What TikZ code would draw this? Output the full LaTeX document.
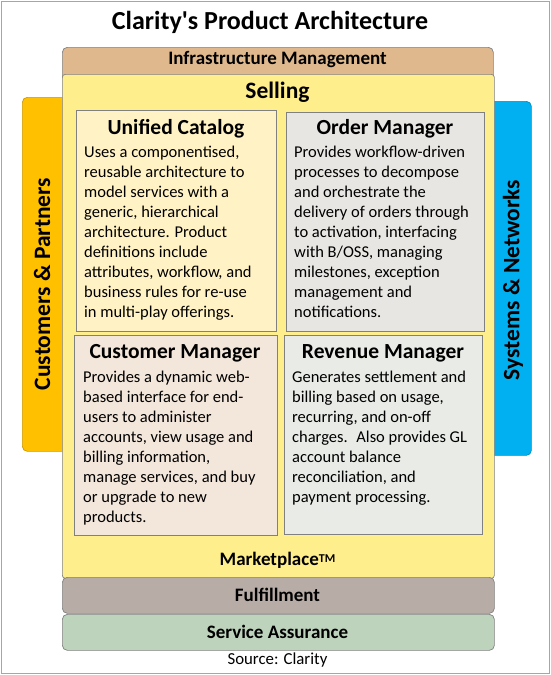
\documentclass[tikz,border=0pt]{standalone}
\usepackage{fontspec}
\setmainfont{Carlito}

\definecolor{framegray}{HTML}{A6A6A6}
\definecolor{infrafill}{HTML}{DFB98D}
\definecolor{sellfill}{HTML}{FFEE8C}
\definecolor{catfill}{HTML}{FFF3C6}
\definecolor{orderfill}{HTML}{E8E6E3}
\definecolor{custfill}{HTML}{F3E6DA}
\definecolor{revfill}{HTML}{E8EBE6}
\definecolor{partnerfill}{HTML}{FFC000}
\definecolor{netfill}{HTML}{00B0F0}
\definecolor{fulfill}{HTML}{B8ACA6}
\definecolor{assurefill}{HTML}{BDD3BB}

\begin{document}
\begin{tikzpicture}[x=1pt, y=-1pt,
    bar/.style={draw=black!50, line width=.7pt, rounded corners=5pt, inner sep=0pt, anchor=north west},
    panel/.style={draw=black!50, line width=.7pt, inner sep=0pt, anchor=north west},
    bartext/.style={font=\bfseries\fontsize{19}{22}\selectfont},
    sidetext/.style={font=\bfseries\fontsize{23.5}{27}\selectfont, rotate=90},
    paneltitle/.style={font=\bfseries\fontsize{21.5}{25}\selectfont},
    panelbody/.style={font=\fontsize{16.5}{20}\selectfont, align=left, inner sep=0pt, anchor=north west}]

        \useasboundingbox (0,0) rectangle (551,675);
        \draw[framegray, line width=.8pt] (1.5,1.5) rectangle (549.5,673.5);

        \node[font=\bfseries\fontsize{26}{30}\selectfont] (title) at (270,22) {Clarity\textquotesingle s Product Architecture};

        % layers behind the selling box
        \node[bar, fill=infrafill, minimum width=431pt, minimum height=34pt] (infra) at (62,47) {};
        \node[bar, fill=partnerfill, draw=partnerfill!80!black, minimum width=46pt, minimum height=354pt] (partners) at (22,97) {};
        \node[bar, fill=netfill, draw=netfill!80!black, minimum width=42pt, minimum height=354pt] (networks) at (489,101) {};

        \node[bar, fill=sellfill, rounded corners=3pt, minimum width=432pt, minimum height=504pt] (selling) at (62,74) {};

        \node[bar, fill=fulfill, minimum width=432pt, minimum height=36pt] (fulfil) at (62,577) {};
        \node[bar, fill=assurefill, minimum width=432pt, minimum height=36pt] (assure) at (62,614) {};

        \node[bartext] (infralabel) at (277.5,60) {Infrastructure Management};
        \node[font=\bfseries\fontsize{23.5}{27}\selectfont] (selllabel) at (277.5,92) {Selling};
        \node[bartext] (marketlabel) at (277.5,560) {Marketplace\raisebox{3pt}{\fontsize{12}{12}\selectfont TM}};
        \node[bartext] (fulfillabel) at (277.5,595) {Fulfillment};
        \node[bartext] (assurelabel) at (277.5,632) {Service Assurance};
        \node[font=\fontsize{16.8}{20}\selectfont] (source) at (277.5,660) {Source: Clarity};

        \node[sidetext] (partnerlabel) at (42,284) {Customers \& Partners};
        \node[sidetext] (netlabel) at (513,280) {Systems \& Networks};

        % the four product panels
        \node[panel, fill=catfill, minimum width=200pt, minimum height=221pt] (catalog) at (76,110) {};
        \node[panel, fill=orderfill, minimum width=198pt, minimum height=219pt] (order) at (286,112) {};
        \node[panel, fill=custfill, minimum width=203pt, minimum height=200pt] (customer) at (74,335) {};
        \node[panel, fill=revfill, minimum width=198pt, minimum height=199pt] (revenue) at (284,335) {};

        \node[paneltitle] (catalogtitle) at (176,129) {Unified Catalog};
        \node[paneltitle] (ordertitle) at (385,129) {Order Manager};
        \node[paneltitle] (customertitle) at (175,353) {Customer Manager};
        \node[paneltitle] (revenuetitle) at (383,353) {Revenue Manager};

        \node[panelbody] (catalogbody) at (84,146) {Uses a componentised,\\ reusable architecture to\\ model services with a\\ generic, hierarchical\\ architecture. Product\\ definitions include\\ attributes, workflow, and\\ business rules for re-use\\ in multi-play offerings.};
        \node[panelbody] (orderbody) at (294,146) {Provides workflow-driven\\ processes to decompose\\ and orchestrate the\\ delivery of orders through\\ to activation, interfacing\\ with B/OSS, managing\\ milestones, exception\\ management and\\ notifications.};
        \node[panelbody] (customerbody) at (83,371) {Provides a dynamic web-\\ based interface for end-\\ users to administer\\ accounts, view usage and\\ billing information,\\ manage services, and buy\\ or upgrade to new\\ products.};
        \node[panelbody] (revenuebody) at (292,371) {Generates settlement and\\ billing based on usage,\\ recurring, and on-off\\ charges.~ Also provides GL\\ account balance\\ reconciliation, and\\ payment processing.};
    \end{tikzpicture}
\end{document}
